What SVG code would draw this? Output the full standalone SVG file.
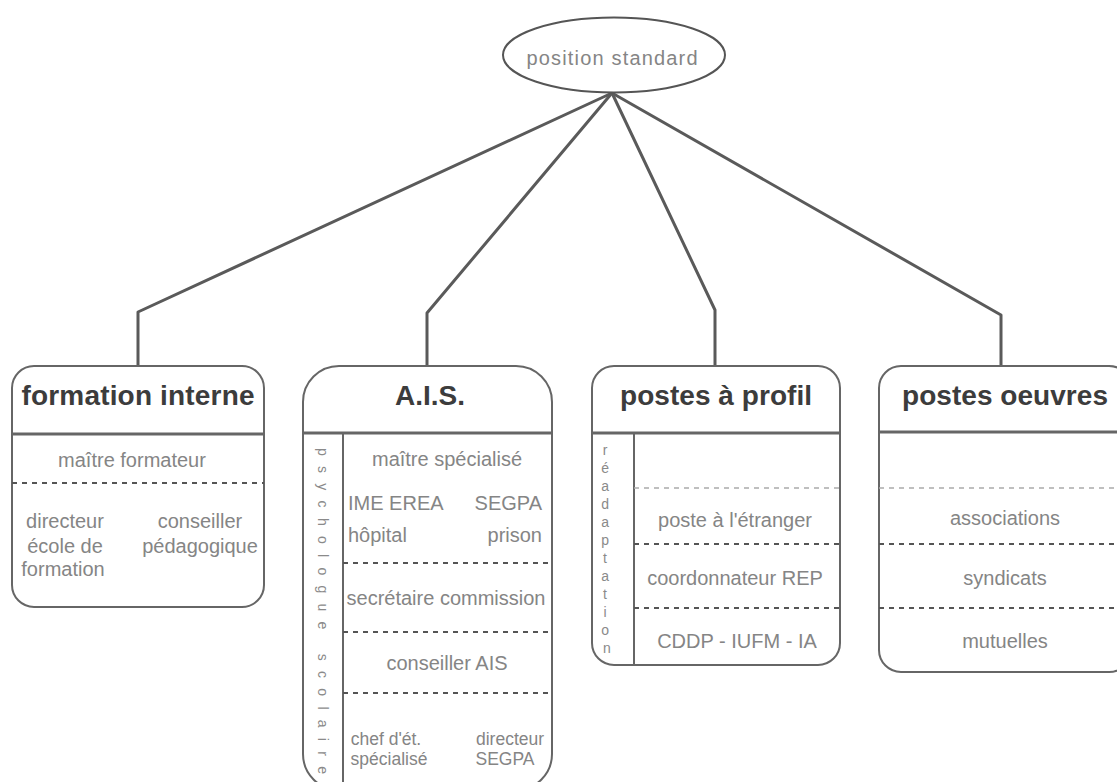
<svg xmlns="http://www.w3.org/2000/svg" width="1117" height="782" viewBox="0 0 1117 782">
  <style>
    .box { fill: #ffffff; stroke: #666666; stroke-width: 2; }
    .head { stroke: #666666; stroke-width: 3; }
    .div { stroke: #666666; stroke-width: 2; }
    .dot { stroke: #555555; stroke-width: 2; stroke-dasharray: 5 5; }
    .dotl { stroke: #aaaaaa; stroke-width: 1.5; stroke-dasharray: 5 5; }
    .conn { fill: none; stroke: #5a5a5a; stroke-width: 3; stroke-linejoin: round; }
    .title { font-family: "Liberation Sans", Arial, sans-serif; font-size: 28px; font-weight: bold; fill: #3c3c3c; text-anchor: middle; }
    .t { font-family: "Liberation Sans", Arial, sans-serif; font-size: 20px; fill: #858585; }
    .s { font-size: 17.5px; }
    .c { text-anchor: middle; }
    .e { text-anchor: end; }
    .v { font-family: "Liberation Sans", Arial, sans-serif; font-size: 14px; fill: #8a8a8a; text-anchor: middle; }
  </style>

  <rect width="1117" height="782" fill="#ffffff"/>

  <!-- connectors from the root to each category -->
  <g id="connectors">
    <path class="conn" d="M612,93 L138,312 L138,366"/>
    <path class="conn" d="M612,93 L427,313 L427,366"/>
    <path class="conn" d="M612,93 L715,310 L715,366"/>
    <path class="conn" d="M612,93 L1001,315 L1001,366"/>
  </g>

  <!-- root -->
  <g id="root">
    <ellipse cx="614" cy="55" rx="111" ry="37.5" fill="#ffffff" stroke="#555555" stroke-width="2"/>
    <text class="t c" x="612" y="65" font-size="22" fill="#7a7a7a" textLength="171">position standard</text>
  </g>

  <!-- formation interne -->
  <g id="formation-interne">
    <rect class="box" x="12" y="366" width="252" height="241" rx="22" ry="22"/>
    <line class="head" x1="12" y1="434" x2="264" y2="434"/>
    <text class="title" x="138" y="405" textLength="233">formation interne</text>
    <text class="t c" x="132" y="467">maître formateur</text>
    <line class="dot" x1="12" y1="483" x2="264" y2="483"/>
    <text class="t c" x="65" y="528">directeur</text>
    <text class="t c" x="65" y="553">école de</text>
    <text class="t c" x="63" y="576">formation</text>
    <text class="t c" x="200" y="528">conseiller</text>
    <text class="t c" x="200" y="553">pédagogique</text>
  </g>

  <!-- A.I.S. -->
  <g id="ais">
    <rect class="box" x="303" y="366" width="249" height="424" rx="36" ry="36"/>
    <line class="head" x1="303" y1="433" x2="552" y2="433"/>
    <line class="div" x1="343" y1="433" x2="343" y2="790"/>
    <text class="title" x="430" y="405" textLength="70">A.I.S.</text>
    <text class="v" transform="translate(318,611) rotate(90)" x="0" y="0" textLength="326">psychologue scolaire</text>
    <text class="t c" x="447" y="466">maître spécialisé</text>
    <text class="t" x="348" y="510">IME EREA</text>
    <text class="t e" x="542" y="510">SEGPA</text>
    <text class="t" x="348" y="542">hôpital</text>
    <text class="t e" x="542" y="542">prison</text>
    <line class="dot" x1="343" y1="563" x2="552" y2="563"/>
    <text class="t c" x="446" y="605">secrétaire commission</text>
    <line class="dot" x1="343" y1="632" x2="552" y2="632"/>
    <text class="t c" x="447" y="670">conseiller AIS</text>
    <line class="dot" x1="343" y1="693" x2="552" y2="693"/>
    <text class="t s c" x="386" y="745">chef d'ét.</text>
    <text class="t s c" x="389" y="765">spécialisé</text>
    <text class="t s c" x="510" y="745">directeur</text>
    <text class="t s c" x="505" y="765">SEGPA</text>
  </g>

  <!-- postes à profil -->
  <g id="postes-a-profil">
    <rect class="box" x="592" y="366" width="248" height="299" rx="22" ry="22"/>
    <line class="head" x1="592" y1="433" x2="840" y2="433"/>
    <line class="div" x1="634" y1="433" x2="634" y2="665"/>
    <text class="title" x="716" y="405" textLength="192">postes à profil</text>
    <text class="v">
      <tspan x="607" y="455">r</tspan>
      <tspan x="607" y="473">é</tspan>
      <tspan x="607" y="491">a</tspan>
      <tspan x="607" y="509">d</tspan>
      <tspan x="607" y="527">a</tspan>
      <tspan x="607" y="545">p</tspan>
      <tspan x="607" y="563">t</tspan>
      <tspan x="607" y="581">a</tspan>
      <tspan x="607" y="599">t</tspan>
      <tspan x="607" y="617">i</tspan>
      <tspan x="607" y="635">o</tspan>
      <tspan x="607" y="653">n</tspan>
    </text>
    <line class="dotl" x1="634" y1="488" x2="840" y2="488"/>
    <text class="t c" x="735" y="527">poste à l'étranger</text>
    <line class="dot" x1="634" y1="544" x2="840" y2="544"/>
    <text class="t c" x="735" y="585">coordonnateur REP</text>
    <line class="dot" x1="634" y1="608" x2="840" y2="608" stroke="#777777"/>
    <text class="t c" x="737" y="648">CDDP - IUFM - IA</text>
  </g>

  <!-- postes oeuvres -->
  <g id="postes-oeuvres">
    <rect class="box" x="879" y="366" width="252" height="306" rx="22" ry="22"/>
    <line class="head" x1="879" y1="432" x2="1131" y2="432"/>
    <text class="title" x="1005" y="405" textLength="206">postes oeuvres</text>
    <line class="dotl" x1="879" y1="488" x2="1131" y2="488"/>
    <text class="t c" x="1005" y="525">associations</text>
    <line class="dot" x1="879" y1="544" x2="1131" y2="544"/>
    <text class="t c" x="1005" y="585">syndicats</text>
    <line class="dot" x1="879" y1="608" x2="1131" y2="608" stroke="#777777"/>
    <text class="t c" x="1005" y="648">mutuelles</text>
  </g>
</svg>
